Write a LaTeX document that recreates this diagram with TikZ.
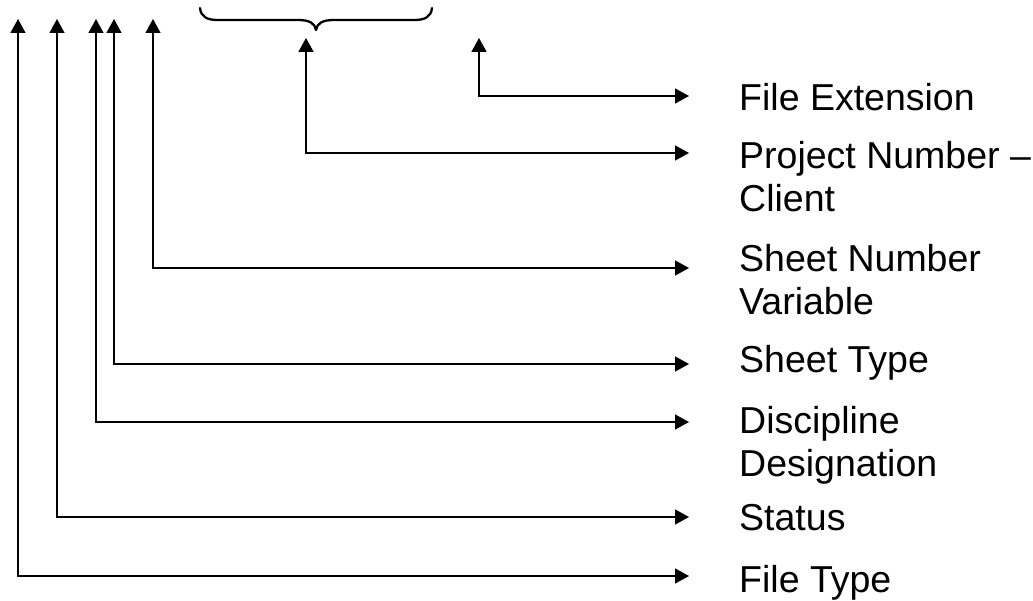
\documentclass[tikz,border=0pt]{standalone}
\usepackage{fontspec}
\setmainfont{Liberation Sans}
\usetikzlibrary{arrows.meta}
\begin{document}
\begin{tikzpicture}[x=1pt,y=-1pt,
    conn/.style={line width=1.5pt, {Triangle[length=14pt,width=15pt]}-{Triangle[length=14pt,width=15pt]}},
    label/.style={anchor=base west, inner sep=0pt, align=left,
                  font=\fontsize{37.5}{43}\selectfont},
    bracepath/.style={line width=2.3pt, line cap=round, line join=round}]
  \useasboundingbox (0,0) rectangle (1033,601);

  % field labels (base = baseline of the last line)
  \node[label] (ext)  at (739,111) {File Extension};
  \node[label] (proj) at (739,212) {Project Number –\\Client};
  \node[label] (snum) at (739,315) {Sheet Number\\Variable};
  \node[label] (styp) at (739,372) {Sheet Type};
  \node[label] (disc) at (739,476) {Discipline\\Designation};
  \node[label] (stat) at (739,530) {Status};
  \node[label] (ftyp) at (739,592) {File Type};

  % upper ends of the leaders
  \coordinate (extTop)  at (479,38);
  \coordinate (projTop) at (306,38);
  \coordinate (snumTop) at (153,19);
  \coordinate (stypTop) at (114,19);
  \coordinate (discTop) at (96,19);
  \coordinate (statTop) at (57,19);
  \coordinate (ftypTop) at (18,19);

  % right ends of the leaders, just before each label
  \coordinate (extEnd)  at (689,96);
  \coordinate (projEnd) at (689,153);
  \coordinate (snumEnd) at (689,268);
  \coordinate (stypEnd) at (689,364);
  \coordinate (discEnd) at (689,422);
  \coordinate (statEnd) at (689,517);
  \coordinate (ftypEnd) at (689,576);

  \draw[conn] (extTop)  |- (extEnd);
  \draw[conn] (projTop) |- (projEnd);
  \draw[conn] (snumTop) |- (snumEnd);
  \draw[conn] (stypTop) |- (stypEnd);
  \draw[conn] (discTop) |- (discEnd);
  \draw[conn] (statTop) |- (statEnd);
  \draw[conn] (ftypTop) |- (ftypEnd);

  % curly brace over the project number group
  \draw[bracepath] (200,8) .. controls (201,17) and (207,20) .. (218,20)
        -- (298,20) .. controls (309,20) and (315,23) .. (316,30)
        .. controls (317,23) and (323,20) .. (334,20)
        -- (414,20) .. controls (425,20) and (431,17) .. (432,8);
\end{tikzpicture}
\end{document}
